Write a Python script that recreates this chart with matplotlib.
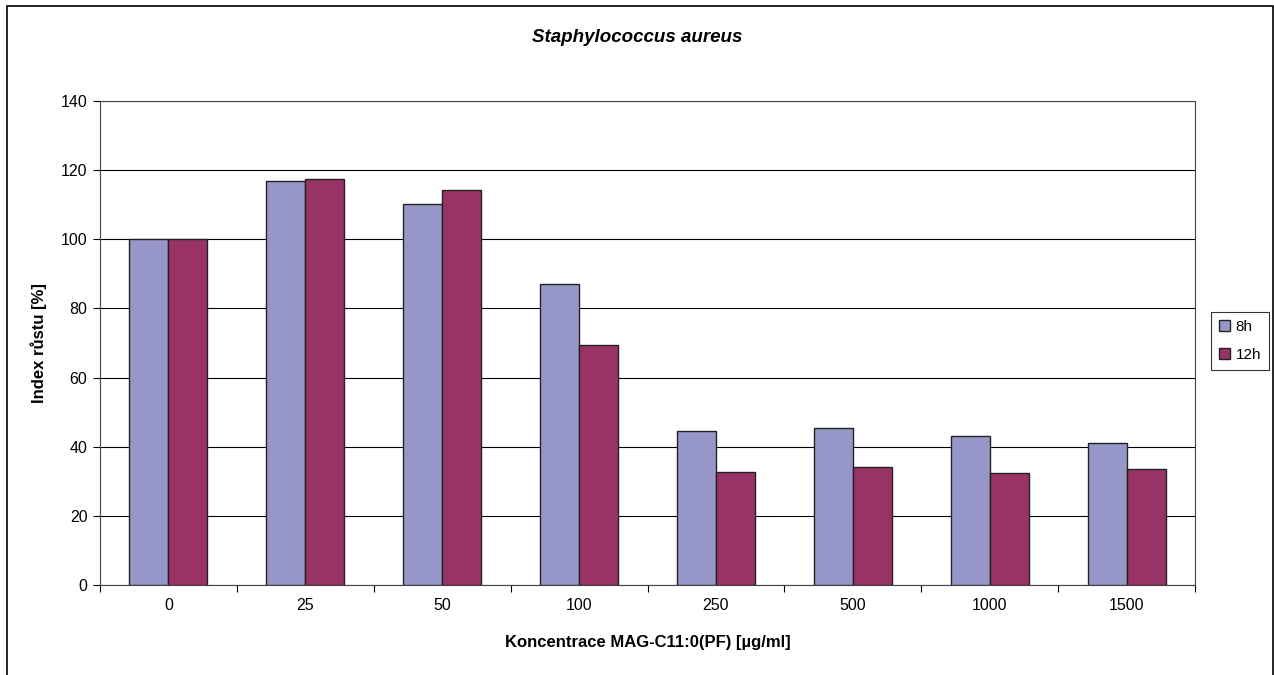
import numpy as np
import matplotlib.pyplot as plt
from matplotlib.patches import Rectangle

plt.rcParams['font.family'] = ['Liberation Sans', 'DejaVu Sans']

categories = ['0', '25', '50', '100', '250', '500', '1000', '1500']
vals_8h = [100, 116.9, 110.2, 87.1, 44.5, 45.4, 43.2, 41.0]
vals_12h = [100, 117.4, 114.2, 69.3, 32.8, 34.1, 32.3, 33.6]
series_names = ['8h', '12h']
colors = ['#9696c8', '#993366']

fig = plt.figure(figsize=(12.74, 6.75), dpi=100)
ax = fig.add_axes([100 / 1274, 1 - 585 / 675, 1095 / 1274, 484 / 675])

x = np.arange(len(categories))
w = 0.285
ax.bar(x - w / 2, vals_8h, w, color=colors[0], edgecolor='#222222', linewidth=1, label=series_names[0], zorder=3)
ax.bar(x + w / 2, vals_12h, w, color=colors[1], edgecolor='#222222', linewidth=1, label=series_names[1], zorder=3)

ax.set_xlim(-0.5, len(categories) - 0.5)
ax.set_ylim(0, 140)
ax.set_yticks(np.arange(0, 141, 20))
ax.yaxis.grid(True, color='black', linewidth=0.8, zorder=0)
ax.set_xticks(x)
ax.set_xticklabels(categories)
ax.set_xticks(np.arange(-0.5, len(categories)), minor=True)
ax.tick_params(axis='x', which='major', length=0, pad=9, labelsize=11.5)
ax.tick_params(axis='x', which='minor', length=5, direction='out', width=0.8)
ax.tick_params(axis='y', length=5, direction='out', width=0.8, labelsize=11.5, pad=4)
for s in ax.spines.values():
    s.set_color('#444444')
    s.set_linewidth(0.8)

ax.set_xlabel('Koncentrace MAG-C11:0(PF) [µg/ml]', fontweight='bold', fontsize=12, labelpad=16)
ax.set_ylabel('Index růstu [%]', fontweight='bold', fontsize=12, labelpad=10)
fig.text(0.5, 1 - 38 / 675, 'Staphylococcus aureus', ha='center', va='center',
         fontsize=13.5, fontweight='bold', fontstyle='italic')

leg = fig.legend(loc='center', bbox_to_anchor=(1240 / 1274, 1 - 341 / 675), frameon=True,
                 fancybox=False, edgecolor='black', fontsize=11, handlelength=0.7,
                 handleheight=0.7, handletextpad=0.4, borderpad=0.5, labelspacing=0.9)
leg.get_frame().set_linewidth(0.8)

fig.patches.append(Rectangle((7 / 1274, -0.02), 1266 / 1274, 1.02 - 6 / 675, transform=fig.transFigure,
                             fill=False, edgecolor='black', linewidth=1.2))

fig.savefig('out.png', dpi=100)
